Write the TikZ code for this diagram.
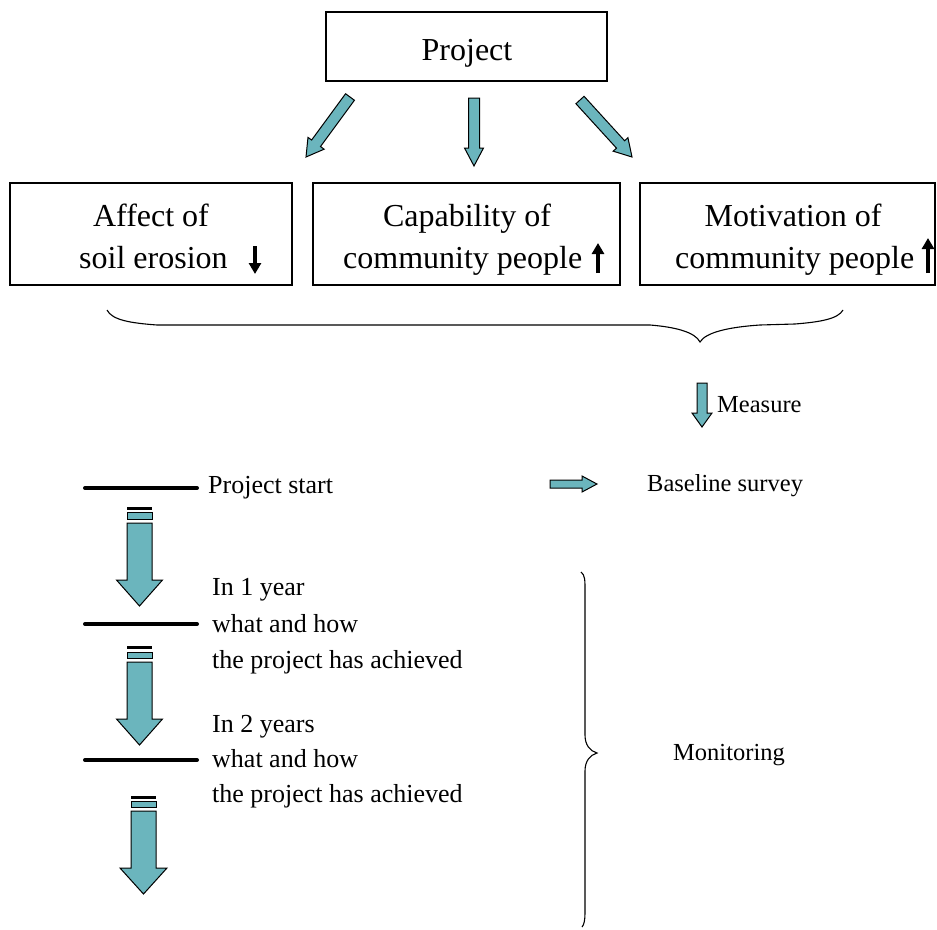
\documentclass[tikz,border=0pt]{standalone}
\usepackage{fontspec}
\setmainfont{Liberation Serif}
\usetikzlibrary{calc,arrows.meta}
\definecolor{teal1}{RGB}{107,181,189}
\newcommand\blockarrow[5]{%
  \coordinate (#2-h) at ($(#2)!#5!(#1)$);
  \filldraw[blockarr] ($(#1)!#3!90:(#2)$) -- ($(#2-h)!#3!90:(#2)$) -- ($(#2-h)!#4!90:(#2)$) -- (#2)
    -- ($(#2-h)!#4!-90:(#2)$) -- ($(#2-h)!#3!-90:(#2)$) -- ($(#1)!#3!-90:(#2)$) -- cycle;}
\begin{document}
\begin{tikzpicture}[x=1pt,y=-1pt,
  box/.style={draw=black,line width=1.1pt,inner sep=0pt},
  bigtxt/.style={font=\fontsize{32}{42}\selectfont,inner sep=0pt},
  smalltxt/.style={font=\fontsize{26}{34}\selectfont,inner sep=0pt,anchor=base west},
  righttxt/.style={font=\fontsize{24.5}{32}\selectfont,inner sep=0pt,anchor=base west},
  blockarr/.style={fill=teal1,draw=black,line width=1pt,line join=miter},
  tline/.style={line width=4pt,line cap=round},
  bararrow/.style={-{Triangle[length=11pt,width=12pt]},line width=3.5pt},
  brace/.style={line width=1.1pt}]
\useasboundingbox (0,0) rectangle (937,929);
% boxes
\node[box,minimum width=281pt,minimum height=69pt] (proj) at (466.5,46.5) {};
\node[bigtxt,anchor=base] (projt) at (467,60) {Project};
\node[box,minimum width=282pt,minimum height=102pt] (b1) at (151,234) {};
\node[box,minimum width=307pt,minimum height=102pt] (b2) at (466.5,234) {};
\node[box,minimum width=295pt,minimum height=102pt] (b3) at (787.5,234) {};
\node[bigtxt,anchor=base] (b1a) at (151,226) {Affect of};
\node[bigtxt,anchor=base west] (b1b) at (79,268) {soil erosion};
\node[bigtxt,anchor=base] (b2a) at (467,226) {Capability of};
\node[bigtxt,anchor=base west] (b2b) at (343,268) {community people};
\node[bigtxt,anchor=base] (b3a) at (793,226) {Motivation of};
\node[bigtxt,anchor=base west] (b3b) at (675,268) {community people};
% small black arrows
\coordinate (d1s) at (255,246); \coordinate (d1e) at (255,274);
\draw[bararrow] (d1s) -- (d1e);
\coordinate (u2s) at (598,273); \coordinate (u2e) at (598,243);
\draw[bararrow] (u2s) -- (u2e);
\coordinate (u3s) at (928,273); \coordinate (u3e) at (928,238);
\draw[bararrow] (u3s) -- (u3e);
% top arrows
\coordinate (a1s) at (350,97); \coordinate (a1e) at (306,157);
\coordinate (a2s) at (474,98); \coordinate (a2e) at (474,166);
\coordinate (a3s) at (580,100); \coordinate (a3e) at (632,157);
\blockarrow{a1s}{a1e}{5.5pt}{10pt}{17pt}
\blockarrow{a2s}{a2e}{5.5pt}{9.5pt}{18pt}
\blockarrow{a3s}{a3e}{5.5pt}{10pt}{17pt}
% top brace
\draw[brace] (107,310) .. controls (112,320) and (130,323) .. (157,325) -- (650,325)
  .. controls (675,327) and (695,332) .. (700,342)
  .. controls (706,332) and (730,327) .. (760,325) -- (795,324)
  .. controls (820,322) and (838,319) .. (843,310);
% measure
\coordinate (ms) at (702,383); \coordinate (me) at (702,427);
\blockarrow{ms}{me}{5pt}{10pt}{14pt}
\node[righttxt] (meas) at (717,412) {Measure};
% baseline
\coordinate (bs) at (550,484); \coordinate (be) at (597,484);
\blockarrow{bs}{be}{4pt}{8pt}{15pt}
\node[righttxt] (base) at (647,491) {Baseline survey};
% timeline
\coordinate (l1a) at (85,488); \coordinate (l1b) at (197,488);
\draw[tline] (l1a) -- (l1b);
\coordinate (l2a) at (85,624); \coordinate (l2b) at (197,624);
\draw[tline] (l2a) -- (l2b);
\coordinate (l3a) at (85,760); \coordinate (l3b) at (197,760);
\draw[tline] (l3a) -- (l3b);
\node[smalltxt] (ps) at (208,493) {Project start};
\node[smalltxt] (t1a) at (212,595) {In 1 year};
\node[smalltxt] (t1b) at (212,632) {what and how};
\node[smalltxt] (t1c) at (212,668) {the project has achieved};
\node[smalltxt] (t2a) at (212,732) {In 2 years};
\node[smalltxt] (t2b) at (212,767) {what and how};
\node[smalltxt] (t2c) at (212,802) {the project has achieved};
% timeline arrows
\draw[line width=3pt] (127,508) -- (152,508);
\filldraw[blockarr] (127,512) rectangle (152,519);
\coordinate (ta1s) at (139.5,523); \coordinate (ta1e) at (139.5,606);
\blockarrow{ta1s}{ta1e}{12.5pt}{23pt}{26pt}
\draw[line width=3pt] (127,647) -- (152,647);
\filldraw[blockarr] (127,652) rectangle (152,658);
\coordinate (ta2s) at (139.5,662); \coordinate (ta2e) at (139.5,745);
\blockarrow{ta2s}{ta2e}{12.5pt}{23pt}{26pt}
\draw[line width=3pt] (131,797) -- (156,797);
\filldraw[blockarr] (131,801) rectangle (156,807);
\coordinate (ta3s) at (143.5,811); \coordinate (ta3e) at (143.5,894);
\blockarrow{ta3s}{ta3e}{12.5pt}{23.5pt}{26pt}
% monitoring brace
\draw[brace] (581,572) .. controls (585,575) and (585,580) .. (585,590) -- (585,735)
  .. controls (585,745) and (590,751) .. (597,753)
  .. controls (590,755) and (585,761) .. (585,771) -- (585,913)
  .. controls (585,920) and (584,925) .. (582,927);
\node[righttxt] (mon) at (673,760) {Monitoring};
\end{tikzpicture}
\end{document}
